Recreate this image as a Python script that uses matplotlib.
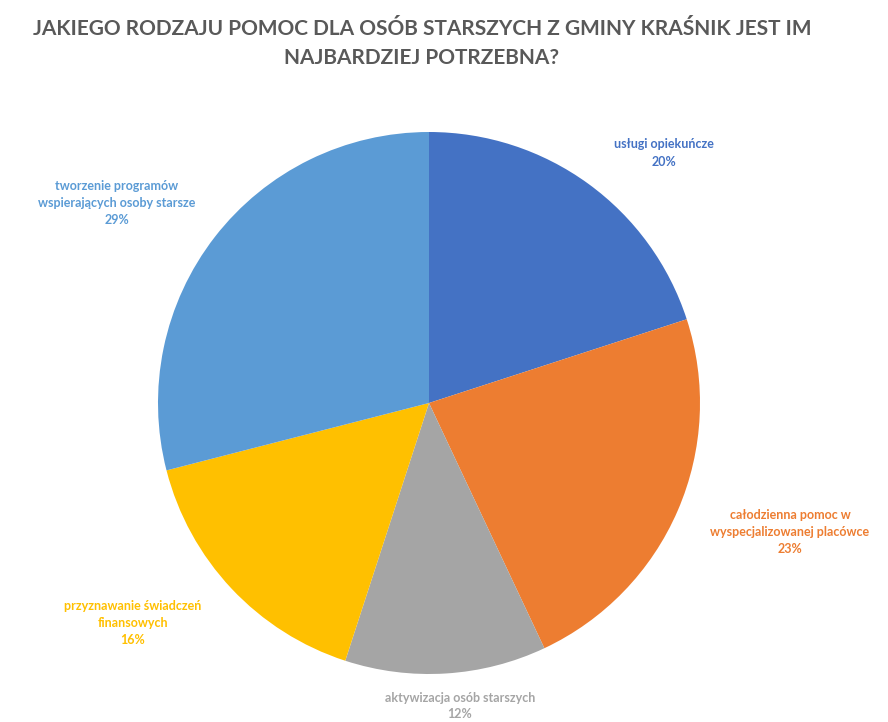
import matplotlib
matplotlib.use("Agg")
import matplotlib.pyplot as plt

plt.rcParams['font.family'] = ['Lato', 'DejaVu Sans']

title = "JAKIEGO RODZAJU POMOC DLA OSÓB STARSZYCH Z GMINY KRAŚNIK JEST IM\nNAJBARDZIEJ POTRZEBNA?"
labels = ["usługi opiekuńcze",
          "całodzienna pomoc w\nwyspecjalizowanej placówce",
          "aktywizacja osób starszych",
          "przyznawanie świadczeń\nfinansowych",
          "tworzenie programów\nwspierających osoby starsze"]
values = [20, 23, 12, 16, 29]
colors = ["#4472C4", "#ED7D31", "#A5A5A5", "#FFC000", "#5B9BD5"]
# label centres in pixels (x, y from top)
label_pos = [(664, 153), (790, 532), (460, 706), (133, 623), (117, 203)]

W, H = 888, 722
cx, cy, R = 429, 403, 271

fig = plt.figure(figsize=(W / 100, H / 100), dpi=100)
ax = fig.add_axes([0, 0, 1, 1])

ax.pie(values, colors=colors, startangle=90, counterclock=False, radius=1,
       wedgeprops=dict(linewidth=0))

# pie() resets the limits, so set them afterwards
ax.set_xlim(-cx / R, (W - cx) / R)
ax.set_ylim(-(H - cy) / R, cy / R)
ax.set_aspect('equal')
ax.axis('off')

for lab, v, c, (px, py) in zip(labels, values, colors, label_pos):
    ax.text((px - cx) / R, -(py - cy) / R, f"{lab}\n{v}%", color=c,
            ha='center', va='center', fontsize=9, fontweight='bold',
            linespacing=1.5)

fig.text(0.475, 0.94, title, ha='center', va='center', fontsize=15,
         fontweight='bold', color='#595959', linespacing=1.6)

fig.savefig("out.png", dpi=100)
